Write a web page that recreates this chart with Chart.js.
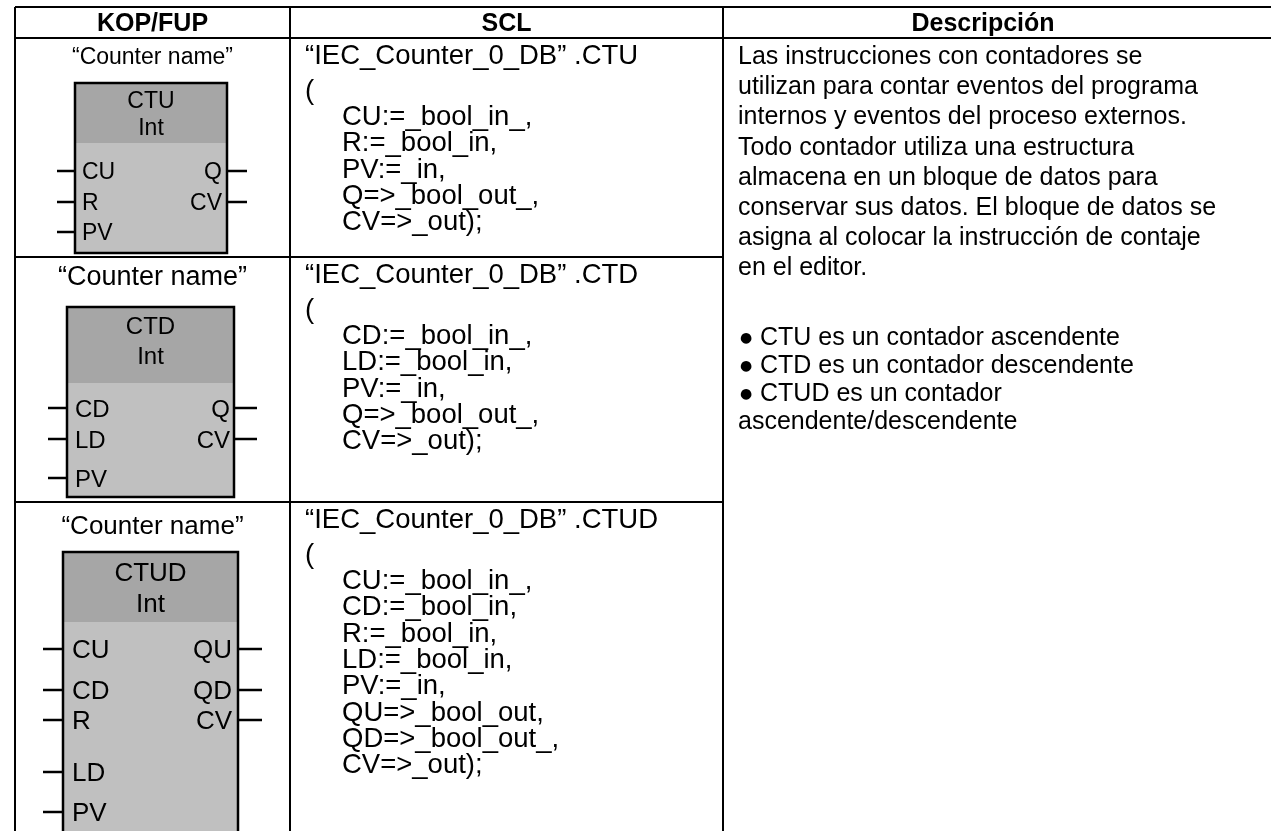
<!DOCTYPE html>
<html>
<head>
<meta charset="utf-8">
<script src="https://cdn.jsdelivr.net/npm/chart.js@4.4.0/dist/chart.umd.min.js"></script>
<style>
  html, body { margin: 0; padding: 0; background: #fff; }
  #wrap { width: 1271px; height: 831px; }
</style>
</head>
<body>
<div id="wrap"><canvas id="tabla" width="1271" height="831"></canvas></div>
<script>
// Contenido de la tabla
const headers = ['KOP/FUP', 'SCL', 'Descripción'];
const counterLabel = '“Counter name”';
const blockTypes = ['CTU', 'CTD', 'CTUD'];
const blockDataType = 'Int';
const inputPins = [['CU', 'R', 'PV'], ['CD', 'LD', 'PV'], ['CU', 'CD', 'R', 'LD', 'PV']];
const outputPins = [['Q', 'CV'], ['Q', 'CV'], ['QU', 'QD', 'CV']];
const sclCalls = ['“IEC_Counter_0_DB” .CTU', '“IEC_Counter_0_DB” .CTD', '“IEC_Counter_0_DB” .CTUD'];
const sclParams = [
    ['CU:=_bool_in_,', 'R:=_bool_in,', 'PV:=_in,', 'Q=>_bool_out_,', 'CV=>_out);'],
    ['CD:=_bool_in_,', 'LD:=_bool_in,', 'PV:=_in,', 'Q=>_bool_out_,', 'CV=>_out);'],
    ['CU:=_bool_in_,', 'CD:=_bool_in,', 'R:=_bool_in,', 'LD:=_bool_in,', 'PV:=_in,', 'QU=>_bool_out,', 'QD=>_bool_out_,', 'CV=>_out);']
];
const descText = [
    'Las instrucciones con contadores se',
    'utilizan para contar eventos del programa',
    'internos y eventos del proceso externos.',
    'Todo contador utiliza una estructura',
    'almacena en un bloque de datos para',
    'conservar sus datos. El bloque de datos se',
    'asigna al colocar la instrucción de contaje',
    'en el editor.'
];
const descBullets = ['CTU es un contador ascendente', 'CTD es un contador descendente', 'CTUD es un contador'];
const descTail = 'ascendente/descendente';

// Geometría (en unidades de los ejes, que coinciden con píxeles)
const GRID = { left: 15, cols: [290, 723], right: 1271, top: 7, head: 38, rows: [38, 257, 502], bottom: 831 };
const BLOCKS = [
    { x0: 75, x1: 227, y0: 83, yHead: 143, y1: 253, name: 56, t1: 100, t2: 127,
      inY: [171, 202, 232], outY: [171, 202], stubL: 57, stubR: 247, font: 23, nameFont: 23, padL: 7, padR: 5 },
    { x0: 67, x1: 234, y0: 307, yHead: 383, y1: 497, name: 275, t1: 325, t2: 355,
      inY: [408, 439, 478], outY: [408, 439], stubL: 48, stubR: 257, font: 24, nameFont: 27, padL: 8, padR: 4 },
    { x0: 63, x1: 238, y0: 552, yHead: 622, y1: 845, name: 525, t1: 572, t2: 603,
      inY: [649, 690, 720, 772, 812], outY: [649, 690, 720], stubL: 43, stubR: 262, font: 26, nameFont: 26, padL: 9, padR: 6 }
];
const FONT = '"Liberation Sans", Arial, sans-serif';

const tablePlugin = {
    id: 'tablaContadores',
    afterDraw(chart) {
        const { ctx, scales: { x, y } } = chart;
        const px = v => x.getPixelForValue(v);
        const py = v => y.getPixelForValue(v);

        // texto con y = centro de las mayúsculas
        const text = (str, tx, ty, size, align, bold, family) => {
            ctx.font = (bold ? 'bold ' : '') + size + 'px ' + (family || FONT);
            ctx.textAlign = align || 'left';
            ctx.textBaseline = 'alphabetic';
            ctx.fillStyle = '#000';
            ctx.fillText(str, px(tx), py(ty + 0.358 * size));
        };
        const line = (x1, y1, x2, y2, w) => {
            ctx.beginPath();
            ctx.lineWidth = w || 2;
            ctx.strokeStyle = '#000';
            ctx.moveTo(px(x1), py(y1));
            ctx.lineTo(px(x2), py(y2));
            ctx.stroke();
        };

        ctx.save();

        // rejilla
        line(GRID.left, GRID.top, GRID.right, GRID.top);
        line(GRID.left, GRID.head, GRID.right, GRID.head);
        GRID.rows.slice(1).forEach(r => line(GRID.left, r, GRID.cols[1], r));
        [GRID.left, ...GRID.cols].forEach(c => line(c, GRID.top, c, GRID.bottom));

        // cabeceras
        const headCenters = [(GRID.left + GRID.cols[0]) / 2, (GRID.cols[0] + GRID.cols[1]) / 2, 983];
        headers.forEach((h, i) => text(h, headCenters[i], 22, 25, 'center', true));

        // bloques KOP/FUP
        BLOCKS.forEach((b, i) => {
            const cx = (GRID.left + GRID.cols[0]) / 2;
            text(counterLabel, cx, b.name, b.nameFont, 'center');

            ctx.fillStyle = '#c0c0c0';
            ctx.fillRect(px(b.x0), py(b.y0), px(b.x1) - px(b.x0), py(b.y1) - py(b.y0));
            ctx.fillStyle = '#a6a6a6';
            ctx.fillRect(px(b.x0), py(b.y0), px(b.x1) - px(b.x0), py(b.yHead) - py(b.y0));
            ctx.lineWidth = 2.5;
            ctx.strokeStyle = '#000';
            ctx.strokeRect(px(b.x0), py(b.y0), px(b.x1) - px(b.x0), py(b.y1) - py(b.y0));

            const bx = (b.x0 + b.x1) / 2;
            text(blockTypes[i], bx, b.t1, b.font, 'center');
            text(blockDataType, bx, b.t2, b.font, 'center');

            inputPins[i].forEach((p, k) => {
                line(b.stubL, b.inY[k], b.x0, b.inY[k], 2.5);
                text(p, b.x0 + b.padL, b.inY[k], b.font, 'left');
            });
            outputPins[i].forEach((p, k) => {
                line(b.x1, b.outY[k], b.stubR, b.outY[k], 2.5);
                text(p, b.x1 - b.padR, b.outY[k], b.font, 'right');
            });
        });

        // columna SCL
        sclCalls.forEach((call, i) => {
            const base = GRID.rows[i] + 16;
            text(call, 305, base, 27.5, 'left');
            text('(', 305, base + 35, 27.5, 'left');
            sclParams[i].forEach((p, k) => text(p, 342, base + 35 + 26.3 * (k + 1), 27.5, 'left'));
        });

        // descripción
        descText.forEach((l, k) => text(l, 738, 55 + 30.2 * k, 25, 'left'));
        const bulletTop = 336;
        descBullets.forEach((l, k) => {
            const by = bulletTop + 28 * k;
            text('●', 740, by + 1, 14, 'left', false, '"DejaVu Sans", sans-serif');
            text(l, 760, by, 25, 'left');
        });
        text(descTail, 738, bulletTop + 28 * descBullets.length, 25, 'left');

        ctx.restore();
    }
};

document.addEventListener('DOMContentLoaded', () => {
    new Chart(document.getElementById('tabla'), {
        type: 'scatter',
        data: { datasets: [{ data: [], pointRadius: 0 }] },
        options: {
            responsive: false,
            animation: false,
            layout: { padding: 0 },
            plugins: { legend: { display: false }, tooltip: { enabled: false } },
            scales: {
                x: { type: 'linear', min: 0, max: 1271, display: false },
                y: { type: 'linear', min: 0, max: 831, reverse: true, display: false }
            }
        },
        plugins: [tablePlugin]
    });
});
</script>
</body>
</html>
